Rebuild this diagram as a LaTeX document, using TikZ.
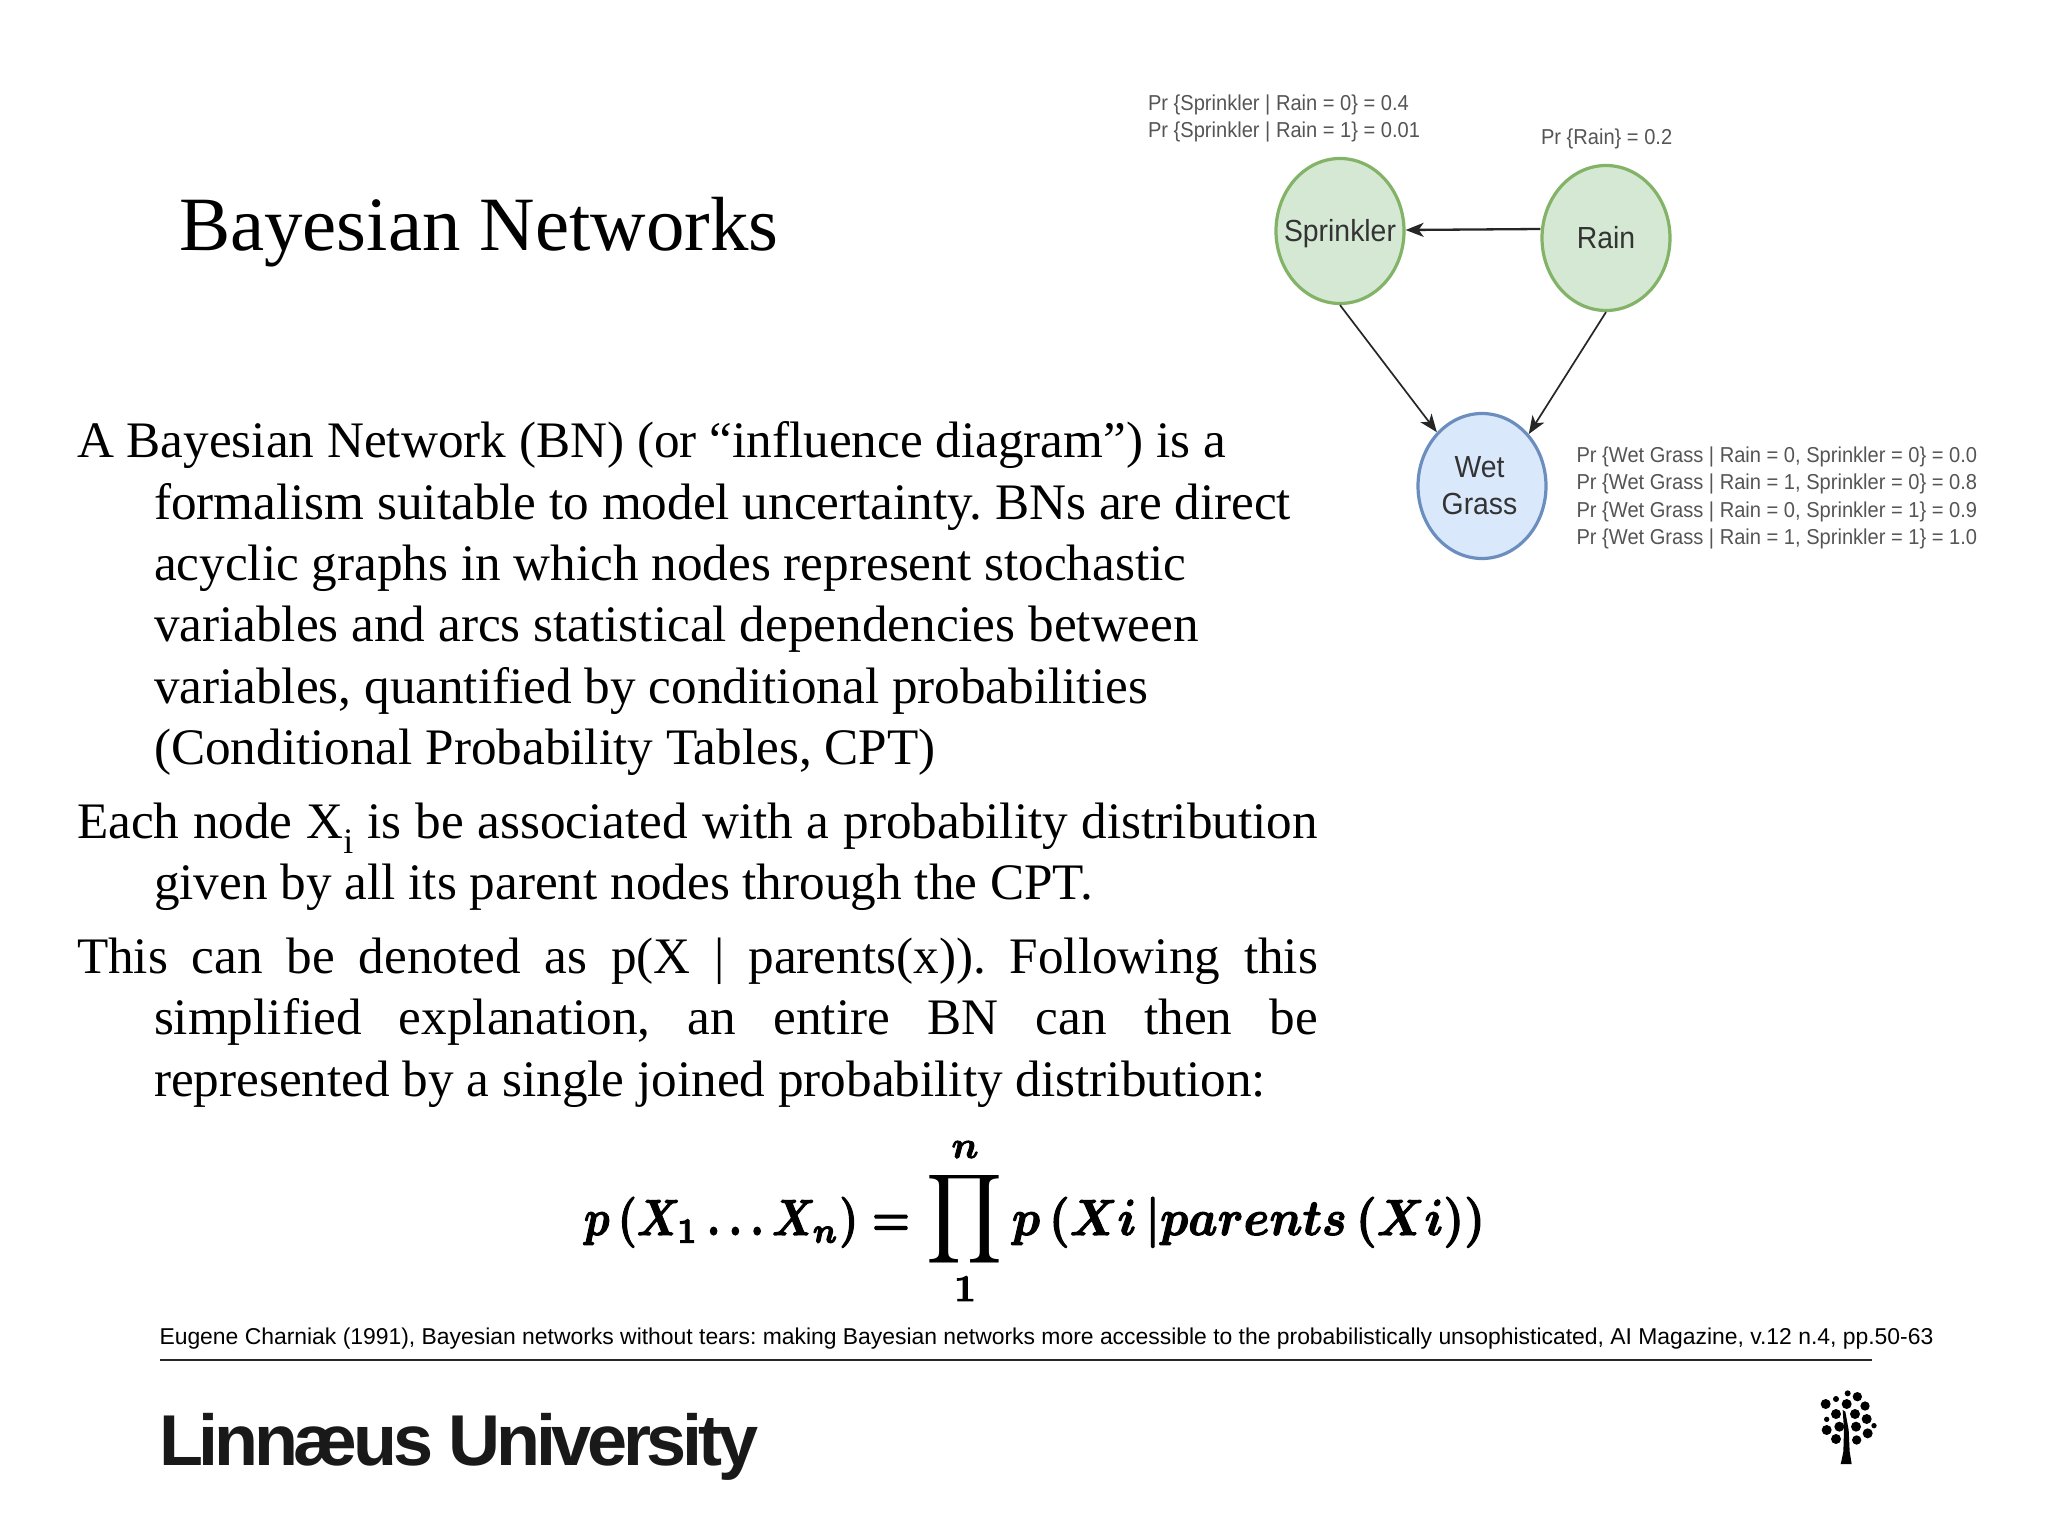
\documentclass[tikz,border=0pt]{standalone}
\usepackage{fontspec}
\usepackage{graphicx}
\usetikzlibrary{arrows.meta,shapes.geometric}
\setmainfont{Liberation Serif}
\newfontfamily\arialf{Liberation Sans}
\newfontfamily\nodef[FakeStretch=0.93]{Liberation Sans}
\newfontfamily\logof[LetterSpace=-6]{Liberation Sans}
\newcommand{\heavyon}{\special{pdf:code 2 Tr 0.22 w}}
\newcommand{\heavyoff}{\special{pdf:code 0 Tr}}
\definecolor{grn}{HTML}{82B366}
\definecolor{grnfill}{HTML}{D5E8D4}
\definecolor{blu}{HTML}{6C8EBF}
\definecolor{blufill}{HTML}{DAE8FC}
\definecolor{lbl}{HTML}{555555}
\definecolor{nodetxt}{HTML}{333333}
\tikzset{
  txt/.style={inner sep=0pt,outer sep=0pt,anchor=base west},
  titletxt/.style={txt,font=\fontsize{76.8}{88}\selectfont},
  bodyline/.style={txt,font=\fontsize{51.2}{62}\selectfont},
  cpt/.style={txt,text=lbl,font=\nodef\fontsize{21.6}{25}\selectfont},
  formula/.style={txt},
  ref/.style={txt,font=\arialf\fontsize{22.9}{28}\selectfont},
  bn/.style={ellipse,minimum width=128pt,minimum height=145pt,inner sep=0pt,line width=3.2pt,text=nodetxt,align=center,font=\nodef\fontsize{30.5}{37}\selectfont},
  green/.style={bn,draw=grn,fill=grnfill,text height=21pt,text depth=0pt},
  blue/.style={bn,draw=blu,fill=blufill},
  conn/.style={-{Stealth[length=18pt,width=14pt,inset=5pt]},line width=1.7pt,black!85}
}
\begin{document}
\frenchspacing
\begin{tikzpicture}[x=1pt,y=-1pt]
\useasboundingbox (0,0) rectangle (2048,1536);
\fill[white] (0,0) rectangle (2048,1536);
\node[titletxt] (title) at (179,250) {Bayesian Networks};
\node[bodyline] (l1) at (77,457.5) {A Bayesian Network (BN) (or “influence diagram”) is a};
\node[bodyline] (l2) at (154,519) {formalism suitable to model uncertainty. BNs are direct};
\node[bodyline] (l3) at (154,580.5) {acyclic graphs in which nodes represent stochastic};
\node[bodyline] (l4) at (154,641.5) {variables and arcs statistical dependencies between};
\node[bodyline] (l5) at (154,703.5) {variables, quantified by conditional probabilities};
\node[bodyline] (l6) at (154,764.5) {(Conditional Probability Tables, CPT)};
\node[bodyline] (l7) at (77,838) {\makebox[1241pt][s]{Each node X\textsubscript{i} is be associated with a probability distribution}};
\node[bodyline] (l8) at (154,899.5) {given by all its parent nodes through the CPT.};
\node[bodyline] (l9) at (77,973.5) {\makebox[1241pt][s]{This can be denoted as p(X | parents(x)). Following this}};
\node[bodyline] (l10) at (154,1034.5) {\makebox[1164pt][s]{simplified explanation, an entire BN can then be}};
\node[bodyline] (l11) at (154,1096.5) {represented by a single joined probability distribution:};
% network
\node[green] (spr) at (1340,231) {\makebox[0pt]{Sprinkler}};
\node[green] (rain) at (1606,238) {\makebox[0pt]{Rain}};
\node[blue] (wet) at (1482,486) {\makebox[0pt]{Wet\hspace{5pt}}\\\makebox[0pt]{Grass\hspace{5pt}}};
\draw[conn,line width=2.3pt] (rain.west |- 1540,229) -- (spr.east |- 1400,230);
\draw[conn] (spr.south) -- (wet.130);
\draw[conn] (rain.south) -- (wet.48);
\node[cpt] (c1) at (1148,110.5) {Pr \{Sprinkler | Rain = 0\} = 0.4};
\node[cpt] (c2) at (1148,137.5) {Pr \{Sprinkler | Rain = 1\} = 0.01};
\node[cpt] (c3) at (1541,145) {Pr \{Rain\} = 0.2};
\node[cpt] (c4) at (1576.5,462) {Pr \{Wet Grass | Rain = 0, Sprinkler = 0\} = 0.0};
\node[cpt] (c5) at (1576.5,489.5) {Pr \{Wet Grass | Rain = 1, Sprinkler = 0\} = 0.8};
\node[cpt] (c6) at (1576.5,517) {Pr \{Wet Grass | Rain = 0, Sprinkler = 1\} = 0.9};
\node[cpt] (c7) at (1576.5,544) {Pr \{Wet Grass | Rain = 1, Sprinkler = 1\} = 1.0};
% formula
\node[formula] (lhs) at (584,1235) {\resizebox{326pt}{38pt}{\heavyon\boldmath$p\,(X_1\dots X_n)=$\heavyoff}};
\node[inner sep=0pt] (prod) at (965,1219) {\resizebox*{76pt}{100pt}{\boldmath$\displaystyle\prod$}};
\node[formula,anchor=base] (pn) at (965,1158) {\scalebox{3.8}{\heavyon\boldmath$n$\heavyoff}};
\node[formula,anchor=base] (p1) at (965,1301) {\scalebox{3.8}{\heavyon\boldmath$1$\heavyoff}};
\node[formula] (rhs) at (1012,1235) {\resizebox{473pt}{38pt}{\heavyon\boldmath$p\,(Xi\,|parents\,(Xi))$\heavyoff}};
% reference
\node[ref] (cite) at (159.5,1344) {Eugene Charniak (1991), Bayesian networks without tears: making Bayesian networks more accessible to the probabilistically unsophisticated, AI Magazine, v.12 n.4, pp.50-63};
\coordinate (ruleL) at (160,1360);
\coordinate (ruleR) at (1872,1360);
\draw[line width=1.6pt,black!85] (ruleL) -- (ruleR);
% logo
\node[txt,font=\logof\bfseries\fontsize{72}{80}\selectfont,text=black!90] (logo) at (159,1465) {Linnæus University};
% tree
\begin{scope}[shift={(1800,1380)},scale=0.3333]
\fill[black] (122,252) -- (155,252) -- (149,215) -- (146,150) -- (136,95) -- (128,90) -- (132,150) -- (130,215) -- (126,235) -- cycle;
\end{scope}
\foreach \cx/\cy/\r in {143/40/9,172/50/14,108/57/9,77/72/15,140/72/15,195/78/14,108/102/15,165/102/15,200/117/15,80/118/8,118/140/15,168/140/15,80/150/15,222/137/8,203/160/15,108/177/15,170/180/14}
  \fill[black] ({1800+\cx/3},{1380+\cy/3}) circle ({\r/3});
\end{tikzpicture}
\end{document}
